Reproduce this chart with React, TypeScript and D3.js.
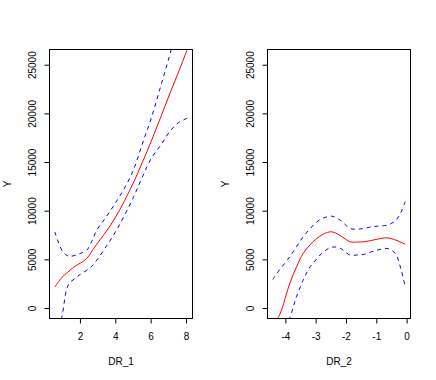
import * as d3 from 'd3';
import React from 'react';

// left panel: DR_1
const dr1X = [0.55, 0.95, 1.23, 1.42, 1.70, 1.98, 2.36, 2.65, 2.92, 3.45, 3.96, 4.5, 4.99, 5.5, 6.03, 6.55, 7.06, 7.55, 8.04];
const dr1Fit = [2200, 3200, 3650, 3950, 4350, 4650, 5140, 5900, 6600, 7900, 9300, 11100, 12900, 15000, 17300, 19700, 22100, 24300, 26600];
const dr1Upper = [7870, 5990, 5450, 5370, 5450, 5650, 5990, 6950, 8040, 9400, 10790, 12400, 14210, 16900, 19690, 22900, 26100, 29500, 33000];
const dr1Lower = [-3500, -860, 2050, 2700, 3080, 3500, 3930, 4350, 4960, 6350, 7800, 9600, 11400, 13500, 15500, 16800, 18200, 19100, 19550];

// right panel: DR_2
const dr2X = [-4.43, -4.2, -3.87, -3.65, -3.43, -3.2, -2.98, -2.76, -2.49, -2.21, -1.88, -1.66, -1.44, -1.2, -0.99, -0.66, -0.39, -0.2, -0.063];
const dr2Fit = [-1800, -600, 2570, 4250, 5650, 6550, 7190, 7650, 7880, 7500, 6850, 6830, 6850, 6980, 7120, 7260, 7050, 6800, 6600];
const dr2Upper = [2980, 4000, 5310, 6350, 7360, 8200, 8900, 9300, 9490, 9080, 8220, 8150, 8220, 8380, 8460, 8560, 9000, 9900, 11000];
const dr2Lower = [-5000, -3200, -960, 1200, 2900, 4280, 5100, 5820, 6300, 6200, 5480, 5500, 5550, 5800, 5990, 6170, 5650, 4000, 2250];

const yTicks = [0, 5000, 10000, 15000, 20000, 25000];
const dr1Ticks = [2, 4, 6, 8];
const dr2Ticks = [-4, -3, -2, -1, 0];
const yLim: [number, number] = [-3, 25590];

const font = '"Liberation Sans", Arial, Helvetica, sans-serif';

const pad = ([a, b]: [number, number]): [number, number] => {
  const r = b - a;
  return [a - 0.04 * r, b + 0.04 * r];
};

type PanelProps = {
  id: string;
  left: number;
  right: number;
  xs: number[];
  fit: number[];
  upper: number[];
  lower: number[];
  xTicks: number[];
  xLabel: string;
};

const top = 49.5;
const bottom = 318.5;

const Panel = ({ id, left, right, xs, fit, upper, lower, xTicks, xLabel }: PanelProps) => {
  const x = d3.scaleLinear().domain(pad([xs[0], xs[xs.length - 1]])).range([left, right]);
  const y = d3.scaleLinear().domain(pad(yLim)).range([bottom, top]);

  const line = (vals: number[]) =>
    d3.line<number>()
      .x((_, i) => x(xs[i]))
      .y((d) => y(d))
      .curve(d3.curveCatmullRom)(vals) || '';

  return (
    <g fontFamily={font} fontSize={10} fill="#000">
      <clipPath id={id}>
        <rect x={left} y={top} width={right - left} height={bottom - top} />
      </clipPath>
      <g clipPath={`url(#${id})`} fill="none" strokeWidth={1}>
        <path d={line(fit)} stroke="#FF0000" />
        <path d={line(upper)} stroke="#0000FF" strokeDasharray="4,4" />
        <path d={line(lower)} stroke="#0000FF" strokeDasharray="4,4" />
      </g>
      <rect x={left} y={top} width={right - left} height={bottom - top} fill="none" stroke="#000" />
      {xTicks.map((t) => (
        <g key={t}>
          <line x1={x(t)} x2={x(t)} y1={bottom} y2={bottom + 5} stroke="#000" />
          <text x={x(t)} y={340} textAnchor="middle">{t}</text>
        </g>
      ))}
      {yTicks.map((t) => (
        <g key={t}>
          <line x1={left} x2={left - 5} y1={y(t)} y2={y(t)} stroke="#000" />
          <text transform={`translate(${left - 14},${y(t)}) rotate(-90)`} textAnchor="middle">{t}</text>
        </g>
      ))}
      <text x={(left + right) / 2} y={365} textAnchor="middle">{xLabel}</text>
      <text transform={`translate(${left - 38.5},184) rotate(-90)`} textAnchor="middle">Y</text>
    </g>
  );
};

export default function App() {
  return (
    <svg width={436} height={380} style={{ position: 'absolute', left: 0, top: 0, background: '#fff' }}>
      <Panel id="c1" left={49.5} right={192.5} xs={dr1X} fit={dr1Fit} upper={dr1Upper} lower={dr1Lower} xTicks={dr1Ticks} xLabel="DR_1" />
      <Panel id="c2" left={267.5} right={410.5} xs={dr2X} fit={dr2Fit} upper={dr2Upper} lower={dr2Lower} xTicks={dr2Ticks} xLabel="DR_2" />
    </svg>
  );
}
